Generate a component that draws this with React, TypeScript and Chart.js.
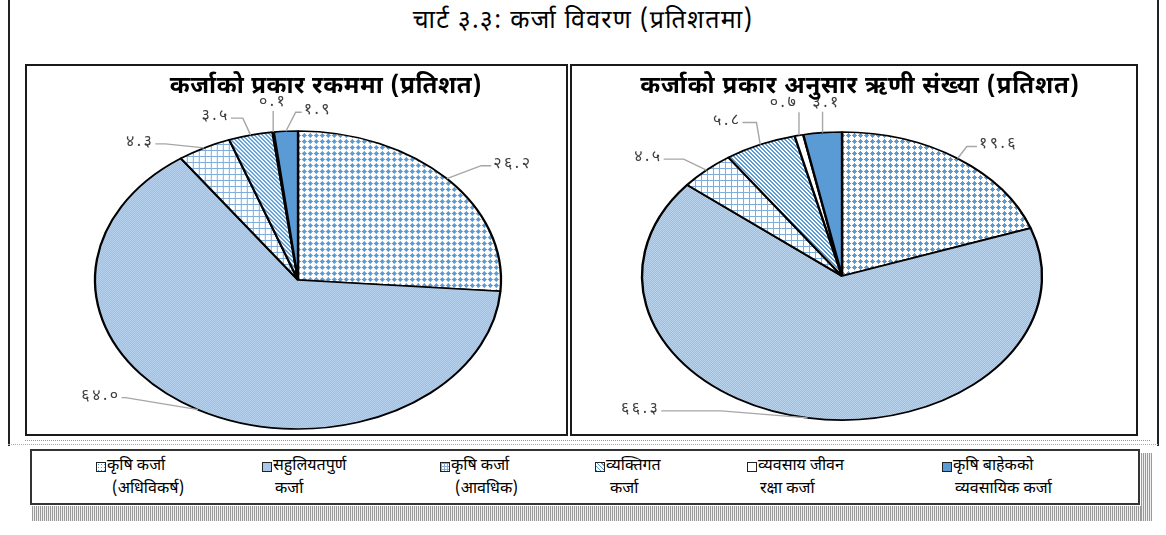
import React, { useEffect, useRef } from "react";
import { Chart, registerables } from "chart.js";
Chart.register(...registerables);

// ---------------- DATA ----------------
const categories = [
  "कृषि कर्जा (अधिविकर्ष)",
  "सहुलियतपुर्ण कर्जा",
  "कृषि कर्जा (आवधिक)",
  "व्यक्तिगत कर्जा",
  "व्यवसाय जीवन रक्षा कर्जा",
  "कृषि बाहेकको व्यवसायिक कर्जा",
];
const legendLines = [
  ["कृषि कर्जा", "(अधिविकर्ष)"],
  ["सहुलियतपुर्ण", "कर्जा"],
  ["कृषि कर्जा", "(आवधिक)"],
  ["व्यक्तिगत", "कर्जा"],
  ["व्यवसाय जीवन", "रक्षा कर्जा"],
  ["कृषि बाहेकको", "व्यवसायिक कर्जा"],
];
const amountShare = [26.2, 64.0, 4.3, 3.5, 0.1, 1.9];
const borrowerShare = [19.6, 66.3, 4.5, 5.8, 0.7, 3.1];
const mainTitle = "चार्ट ३.३: कर्जा विवरण (प्रतिशतमा)";
const leftTitle = "कर्जाको प्रकार रकममा (प्रतिशत)";
const rightTitle = "कर्जाको प्रकार अनुसार ऋणी संख्या (प्रतिशत)";

// ---------------- LAYOUT / STYLE ----------------
const FONT = '"Noto Sans Devanagari", "Lohit Devanagari", "Noto Sans", "DejaVu Sans", sans-serif';
const patternKinds = ["diamond", "checker", "grid", "diag", "white", "solid"];
// label placement relative to the slice's outer edge point: dx, dy, mode, horizontal leader length
const leftLabelLayout = [
  { dx: 65, dy: -14, mode: "r", h: 10 },
  { dx: -98, dy: -13, mode: "l", h: 4 },
  { dx: -65, dy: -5, mode: "l", h: 10 },
  { dx: -36, dy: -18, mode: "l", h: 12 },
  { dx: -1, dy: -29, mode: "v", h: 0 },
  { dx: 31, dy: -20, mode: "r", h: 6 },
];
const rightLabelLayout = [
  { dx: 40, dy: -13, mode: "r", h: 10 },
  { dx: -168, dy: -8, mode: "l", h: 60 },
  { dx: -59, dy: -12, mode: "l", h: 20 },
  { dx: -34, dy: -23, mode: "l", h: 14 },
  { dx: -16, dy: -31, mode: "v", h: 0 },
  { dx: 3, dy: -29, mode: "v", h: 0 },
];

const toDev = (s: string) => s.replace(/\d/g, (d) => "०१२३४५६७८९"[+d]);

function makeTile(kind: string): HTMLCanvasElement {
  const c = document.createElement("canvas");
  const blue = "#5b9bd5";
  let n = 6;
  if (kind === "checker") n = 2;
  if (kind === "diag") n = 4;
  c.width = n;
  c.height = n;
  const g = c.getContext("2d")!;
  g.fillStyle = "#ffffff";
  g.fillRect(0, 0, n, n);
  if (kind === "diamond") {
    g.fillStyle = blue;
    g.fillRect(3, 1, 1, 1);
    g.fillRect(2, 2, 3, 1);
    g.fillRect(1, 3, 5, 1);
    g.fillRect(2, 4, 3, 1);
    g.fillRect(3, 5, 1, 1);
  } else if (kind === "checker") {
    g.fillStyle = "#bcd5ef";
    g.fillRect(0, 0, 2, 2);
    g.fillStyle = "#98bee5";
    g.fillRect(0, 0, 1, 1);
    g.fillRect(1, 1, 1, 1);
  } else if (kind === "grid") {
    g.fillStyle = "#7eaede";
    g.fillRect(0, 0, n, 1);
    g.fillRect(0, 0, 1, n);
  } else if (kind === "diag") {
    g.fillStyle = "#5b9bd5";
    for (let i = 0; i < n; i++) {
      g.fillRect(i, i, 1, 1);
      g.fillRect((i + 1) % n, i, 1, 1);
    }
  } else if (kind === "solid") {
    g.fillStyle = blue;
    g.fillRect(0, 0, n, n);
  }
  return c;
}

function makeFills(ctx: CanvasRenderingContext2D, sx: number) {
  return patternKinds.map((k) => {
    if (k === "white") return "#ffffff";
    if (k === "solid") return "#5b9bd5";
    const p = ctx.createPattern(makeTile(k), "repeat")!;
    try {
      p.setTransform(new DOMMatrix([1 / sx, 0, 0, 1, 0, 0]));
    } catch (e) {}
    return p;
  });
}

type PieProps = {
  values: number[];
  layout: any[];
  sx: number;
  radius: number;
  padding: any;
  width: number;
  height: number;
};

function EllipsePie({ values, layout, sx, radius, padding, width, height }: PieProps) {
  const ref = useRef<HTMLCanvasElement>(null);
  useEffect(() => {
    const canvas = ref.current!;
    const ctx = canvas.getContext("2d")!;
    const fills = makeFills(ctx, sx);
    const ellipsePlugin = {
      id: "ellipse",
      beforeDatasetsDraw(chart: any) {
        const a = chart.getDatasetMeta(0).data[0];
        const c = chart.ctx;
        c.save();
        c.translate(a.x, a.y);
        c.scale(sx, 1);
        c.translate(-a.x, -a.y);
      },
      afterDatasetsDraw(chart: any) {
        chart.ctx.restore();
      },
    };
    const labelPlugin = {
      id: "sliceLabels",
      afterDraw(chart: any) {
        const c = chart.ctx;
        const arcs = chart.getDatasetMeta(0).data;
        c.save();
        c.font = "16px " + FONT;
        try {
          (c as any).letterSpacing = "2.5px";
        } catch (e) {}
        c.textBaseline = "middle";
        arcs.forEach((a: any, i: number) => {
          const mid = (a.startAngle + a.endAngle) / 2;
          const px = a.x + sx * a.outerRadius * Math.cos(mid);
          const py = a.y + a.outerRadius * Math.sin(mid);
          const L = layout[i];
          const text = toDev(values[i].toFixed(1));
          const w = c.measureText(text).width;
          const lx = px + L.dx;
          const ly = py + L.dy;
          const pts: number[][] = [[px, py]];
          if (L.mode === "v") {
            pts.push([px, ly + 8]);
          } else if (L.mode === "r") {
            const ex = lx - w / 2 - 1;
            pts.push([ex - L.h, ly + 1], [ex, ly + 1]);
          } else {
            const ex = lx + w / 2 + 2;
            pts.push([ex + L.h, ly + 1], [ex, ly + 1]);
          }
          c.strokeStyle = "#a6a6a6";
          c.lineWidth = 1.4;
          c.beginPath();
          c.moveTo(pts[0][0], pts[0][1]);
          for (let k = 1; k < pts.length; k++) c.lineTo(pts[k][0], pts[k][1]);
          c.stroke();
          c.fillStyle = "#404040";
          c.textAlign = "center";
          c.fillText(text, lx + 1, ly);
        });
        c.restore();
      },
    };
    const chart = new Chart(canvas, {
      type: "pie",
      data: {
        labels: categories,
        datasets: [
          {
            data: values,
            backgroundColor: fills as any,
            borderColor: "#000000",
            borderWidth: 1.7,
          },
        ],
      },
      options: {
        animation: false,
        responsive: false,
        maintainAspectRatio: false,
        radius: radius,
        layout: { padding },
        plugins: {
          legend: { display: false },
          tooltip: { enabled: false },
          title: { display: false },
        },
      } as any,
      plugins: [ellipsePlugin, labelPlugin],
    });
    return () => chart.destroy();
  }, []);
  return <canvas ref={ref} width={width} height={height} style={{ width, height, display: "block" }} />;
}

function Swatch({ i }: { i: number }) {
  const bgs = [
    "radial-gradient(circle, #5b9bd5 35%, #ffffff 40%) 0 0/3px 3px",
    "#a9c8e8",
    "linear-gradient(#7eaede 1px, transparent 1px) 0 0/3px 3px, linear-gradient(90deg, #7eaede 1px, #fff 1px) 0 0/3px 3px",
    "repeating-linear-gradient(45deg, #5b9bd5 0 1px, #ffffff 1px 3px)",
    "#ffffff",
    "#5b9bd5",
  ];
  return (
    <div
      style={{
        position: "absolute",
        width: 8,
        height: 8,
        border: "1px solid #222",
        background: bgs[i],
      }}
    />
  );
}

const shadowBg = "repeating-linear-gradient(90deg, #9a9a9a 0 1px, #eeeeee 1px 2px)";

export default function App() {
  const legendX = [96, 262, 440, 595, 747, 942];
  const line2Indent = [16, 13, 15, 15, 13, 13];
  return (
    <div
      style={{
        position: "fixed",
        left: 0,
        top: 0,
        width: 1166,
        height: 535,
        background: "#fff",
        overflow: "hidden",
        fontFamily: FONT,
        color: "#000",
      }}
    >
      {/* outer frame */}
      <div style={{ position: "absolute", left: 8, top: -2, width: 1147, height: 446, borderLeft: "2px solid #222", borderRight: "2px solid #222", borderTop: "2px solid #222" }} />
      <div style={{ position: "absolute", left: 0, top: 5, width: 1166, textAlign: "center", fontSize: 25, letterSpacing: 1.2, lineHeight: "34px" }}>
        {mainTitle}
      </div>
      {/* panels */}
      <div style={{ position: "absolute", left: 25, top: 64, width: 539, height: 368, border: "2px solid #1a1a1a" }} />
      <div style={{ position: "absolute", left: 570, top: 64, width: 564, height: 368, border: "2px solid #1a1a1a" }} />
      <div style={{ position: "absolute", left: 27, top: 66 }}>
        <EllipsePie values={amountShare} layout={leftLabelLayout} sx={203 / 149} radius={149} padding={{ left: 3, right: 0, top: 60, bottom: 0 }} width={539} height={368} />
      </div>
      <div style={{ position: "absolute", left: 572, top: 66 }}>
        <EllipsePie values={borrowerShare} layout={rightLabelLayout} sx={200 / 144} radius={144} padding={{ left: 0, right: 24, top: 52, bottom: 0 }} width={564} height={368} />
      </div>
      <div style={{ position: "absolute", left: 26, top: 70, width: 600, textAlign: "center", fontSize: 24, fontWeight: 700, letterSpacing: 0.6, lineHeight: "34px" }}>
        {leftTitle}
      </div>
      <div style={{ position: "absolute", left: 560, top: 70, width: 600, textAlign: "center", fontSize: 24, fontWeight: 700, letterSpacing: 0.8, lineHeight: "34px" }}>
        {rightTitle}
      </div>
      {/* dotted separators */}
      <div style={{ position: "absolute", left: 25, top: 440, width: 1125, borderTop: "1px dotted #999" }} />
      <div style={{ position: "absolute", left: 8, top: 444, width: 1150, borderTop: "1px dotted #aaa" }} />
      {/* legend */}
      <div style={{ position: "absolute", left: 30, top: 449, width: 1106, height: 52, border: "2px solid #333" }} />
      {legendLines.map((ln, i) => (
        <div key={i} style={{ position: "absolute", left: legendX[i], top: 455, fontSize: 16, lineHeight: "23px", whiteSpace: "nowrap" }}>
          <div style={{ position: "absolute", left: 0, top: 7 }}>
            <Swatch i={i} />
          </div>
          <div style={{ position: "absolute", left: 11, top: 0 }}>{ln[0]}</div>
          <div style={{ position: "absolute", left: line2Indent[i], top: 23 }}>{ln[1]}</div>
        </div>
      ))}
      {/* shadow */}
      <div style={{ position: "absolute", left: 32, top: 506, width: 1120, height: 15, background: shadowBg }} />
      <div style={{ position: "absolute", left: 1141, top: 453, width: 11, height: 68, background: shadowBg }} />
    </div>
  );
}
